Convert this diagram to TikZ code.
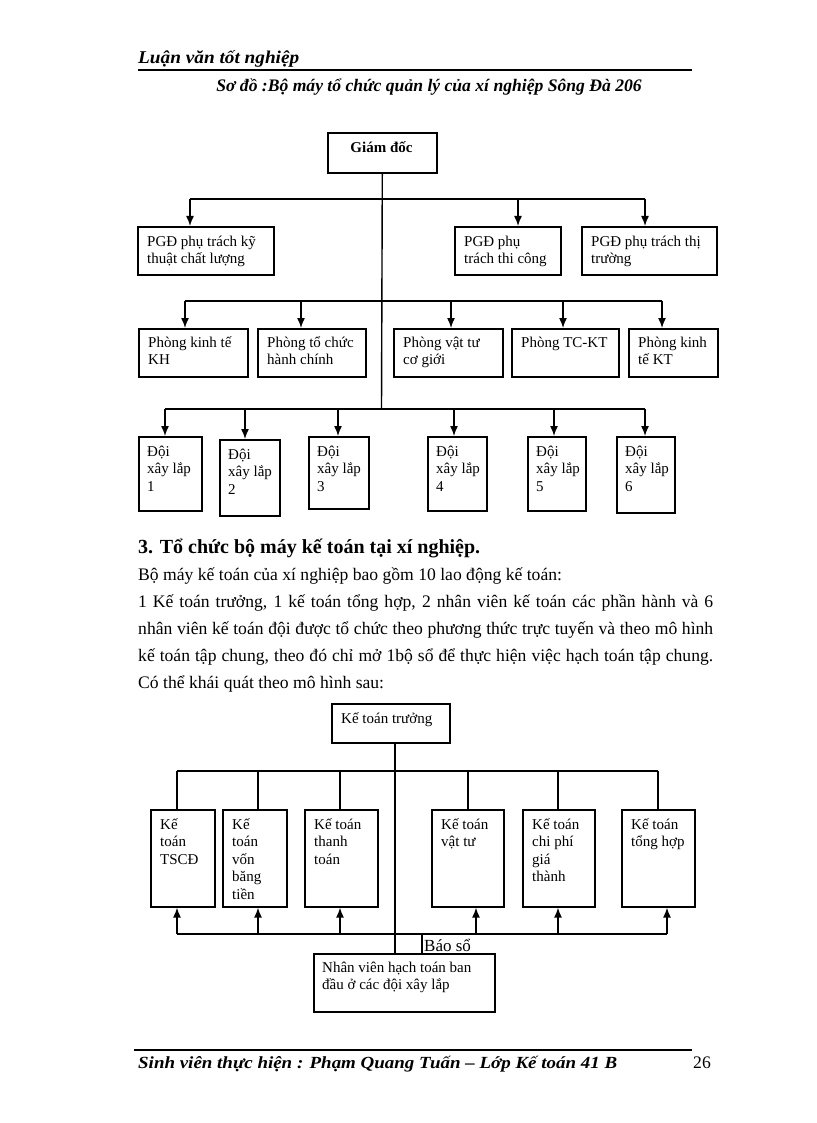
\documentclass[tikz,border=0pt]{standalone}
\usepackage{fontspec}
\setmainfont{Liberation Serif}
\usetikzlibrary{arrows.meta}
\tikzset{
  boxst/.style={draw, line width=1.6pt, inner sep=0pt},
  conn/.style={line width=1.4pt},
  arr/.style={conn, -{Latex[length=10pt,width=8pt]}},
  plain/.style={inner sep=0pt},
}
\newcommand\padx{10pt}
\newcommand\basey{20pt}
\newcommand\bxfont{\fontsize{15}{17.5}\selectfont}
\newcommand\bx[6]{%
  \node[boxst, anchor=north west, minimum width={(#4-#2)*1pt}, minimum height={(#5-#3)*1pt}] (#1) at (#2,#3) {};
  \node[plain, anchor=base west, font=\bxfont] (#1t) at ([xshift=\padx, yshift=-\basey]#1.north west) {\parbox[t]{300pt}{\raggedright #6}};
}
\newcommand\bodyfont{\fontsize{17.6}{27}\selectfont}
\begin{document}
\begin{tikzpicture}[x=1pt,y=-1pt]
\useasboundingbox[fill=white] (0,0) rectangle (816,1123);

% header / title
\node[plain, anchor=base west, font=\fontsize{18}{20}\selectfont\bfseries\itshape] (hdr) at (138,64) {\scalebox{1.07}[1]{Luận văn tốt nghiệp}};
\coordinate (hrl) at (138,70); \coordinate (hrr) at (692,70);
\draw[line width=2pt] (hrl) -- (hrr);
\node[plain, anchor=base, font=\fontsize{17.6}{20}\selectfont\bfseries\itshape] (title) at (429,92) {Sơ đồ :Bộ máy tổ chức quản lý của xí nghiệp Sông Đà 206};

% ---------- top chart ----------
\node[boxst, anchor=north west, minimum width=109pt, minimum height=40pt] (gd) at (327,132) {};
\node[plain, anchor=base, font=\fontsize{15}{17}\selectfont\bfseries] (gdt) at (381.5,153) {Giám đốc};

\renewcommand\padx{10pt}\renewcommand\basey{20pt}
\bx{pgd1}{137}{226}{273}{274}{PGĐ phụ trách kỹ\\thuật chất lượng}
\bx{pgd2}{454}{226}{560}{274}{PGĐ phụ\\trách thi công}
\bx{pgd3}{581}{226}{716}{274}{PGĐ phụ trách thị\\trường}

\renewcommand\basey{19pt}
\bx{p1}{138}{328}{247}{376}{Phòng kinh tế\\KH}
\bx{p2}{257}{328}{365}{376}{Phòng tổ chức\\hành chính}
\bx{p3}{393}{328}{502}{376}{Phòng vật tư\\cơ giới}
\bx{p4}{511}{328}{618}{376}{Phòng TC-KT}
\bx{p5}{628}{328}{717}{376}{Phòng kinh\\tế KT}

\renewcommand\padx{9pt}\renewcommand\basey{20pt}
\bx{d1}{138}{436}{201}{510}{Đội\\xây lắp\\1}
\bx{d2}{219}{439}{279}{515}{Đội\\xây lắp\\2}
\bx{d3}{308}{436}{368}{508}{Đội\\xây lắp\\3}
\bx{d4}{427}{436}{486}{510}{Đội\\xây lắp\\4}
\bx{d5}{527}{436}{585}{510}{Đội\\xây lắp\\5}
\bx{d6}{616}{436}{674}{512}{Đội\\xây lắp\\6}

% connectors top chart
\coordinate (tr3) at (381.5,409);
\draw[conn] (gd.south) -- (tr3);
\coordinate (h1a) at (190,199); \coordinate (h1b) at (518,199); \coordinate (h1c) at (645,199);
\draw[conn] (h1a) -- (h1c);
\draw[arr] (h1a) -- (h1a |- pgd1.north);
\draw[arr] (h1b) -- (h1b |- pgd2.north);
\draw[arr] (h1c) -- (h1c |- pgd3.north);

\coordinate (h2a) at (185,301); \coordinate (h2b) at (301,301); \coordinate (h2c) at (451,301);
\coordinate (h2d) at (563,301); \coordinate (h2e) at (662,301);
\draw[conn] (h2a) -- (h2e);
\draw[arr] (h2a) -- (h2a |- p1.north);
\draw[arr] (h2b) -- (h2b |- p2.north);
\draw[arr] (h2c) -- (h2c |- p3.north);
\draw[arr] (h2d) -- (h2d |- p4.north);
\draw[arr] (h2e) -- (h2e |- p5.north);

\coordinate (h3a) at (165,409); \coordinate (h3b) at (245,409); \coordinate (h3c) at (338,409);
\coordinate (h3d) at (454,409); \coordinate (h3e) at (554,409); \coordinate (h3f) at (645,409);
\draw[conn] (h3a) -- (h3f);
\draw[arr] (h3a) -- (h3a |- d1.north);
\draw[arr] (h3b) -- (h3b |- d2.north);
\draw[arr] (h3c) -- (h3c |- d3.north);
\draw[arr] (h3d) -- (h3d |- d4.north);
\draw[arr] (h3e) -- (h3e |- d5.north);
\draw[arr] (h3f) -- (h3f |- d6.north);

% ---------- text ----------
\node[plain, anchor=base west, font=\fontsize{20}{22}\selectfont\bfseries] (sec) at (138,553) {3. Tổ chức bộ máy kế toán tại xí nghiệp.};
\node[plain, anchor=base west, font=\bodyfont] (l1) at (138,580) {Bộ máy kế toán của xí nghiệp bao gồm 10 lao động kế toán:};
\node[plain, anchor=base west, font=\bodyfont] (l2) at (138,607) {\hbox to 575pt{1 Kế toán trưởng, 1 kế toán tổng hợp, 2 nhân viên kế toán các phần hành và 6}};
\node[plain, anchor=base west, font=\bodyfont] (l3) at (138,634) {\hbox to 575pt{nhân viên kế toán đội được tổ chức theo phương thức trực tuyến và theo mô hình}};
\node[plain, anchor=base west, font=\bodyfont] (l4) at (138,661) {\hbox to 575pt{kế toán tập chung, theo đó chỉ mở 1bộ sổ để thực hiện việc hạch toán tập chung.}};
\node[plain, anchor=base west, font=\bodyfont] (l5) at (138,688) {Có thể khái quát theo mô hình sau:};

% ---------- bottom chart ----------
\node[boxst, anchor=north west, minimum width=118pt, minimum height=39pt] (kt) at (331,703) {};
\node[plain, anchor=base west, font=\bxfont] (ktt) at (341,723) {Kế toán trưởng};

\renewcommand\padx{10pt}\renewcommand\basey{20pt}
\bx{k1}{150}{809}{214}{906}{Kế\\toán\\TSCĐ}
\bx{k2}{222}{809}{286}{906}{Kế\\toán\\vốn\\băng\\tiền}
\bx{k3}{304}{809}{377}{906}{Kế toán\\thanh\\toán}
\bx{k4}{431}{809}{503}{906}{Kế toán\\vật tư}
\bx{k5}{522}{809}{594}{906}{Kế toán\\chi phí\\giá\\thành}
\bx{k6}{621}{809}{694}{906}{Kế toán\\tổng hợp}

\renewcommand\padx{9pt}\renewcommand\basey{19pt}
\bx{nv}{313}{953}{494}{1011}{Nhân viên hạch toán ban\\đầu ở các đội xây lắp}

\coordinate (trk) at (395,742);
\draw[conn] (trk) -- (trk |- nv.north);
\coordinate (h4a) at (177,771); \coordinate (h4b) at (258,771); \coordinate (h4c) at (340,771);
\coordinate (h4d) at (468,771); \coordinate (h4e) at (558,771); \coordinate (h4f) at (658,771);
\draw[conn] (h4a) -- (h4f);
\draw[conn] (h4a) -- (h4a |- k1.north);
\draw[conn] (h4b) -- (h4b |- k2.north);
\draw[conn] (h4c) -- (h4c |- k3.north);
\draw[conn] (h4d) -- (h4d |- k4.north);
\draw[conn] (h4e) -- (h4e |- k5.north);
\draw[conn] (h4f) -- (h4f |- k6.north);

\coordinate (h5a) at (177,934); \coordinate (h5b) at (258,934); \coordinate (h5c) at (340,934);
\coordinate (h5d) at (476,934); \coordinate (h5e) at (558,934); \coordinate (h5f) at (667,934);
\draw[conn] (h5a) -- (h5f);
\draw[arr] (h5a) -- (h5a |- k1.south);
\draw[arr] (h5b) -- (h5b |- k2.south);
\draw[arr] (h5c) -- (h5c |- k3.south);
\draw[arr] (h5d) -- (h5d |- k4.south);
\draw[arr] (h5e) -- (h5e |- k5.south);
\draw[arr] (h5f) -- (h5f |- k6.south);
\coordinate (bs) at (422,934);
\draw[conn] (bs) -- (bs |- nv.north);
\node[plain, anchor=base west, font=\fontsize{17}{19}\selectfont] (bao) at (424,951) {Báo sổ};

% ---------- footer ----------
\coordinate (frl) at (134,1050); \coordinate (frr) at (692,1050);
\draw[line width=1.5pt] (frl) -- (frr);
\node[plain, anchor=base west, font=\fontsize{17}{19}\selectfont\bfseries\itshape] (ftr) at (138,1068) {\scalebox{1.115}[1]{Sinh viên thực hiện : Phạm Quang Tuấn – Lớp Kế toán 41 B}};
\node[plain, anchor=base west, font=\fontsize{17.6}{20}\selectfont] (pg) at (693,1068) {26};
\end{tikzpicture}
\end{document}
